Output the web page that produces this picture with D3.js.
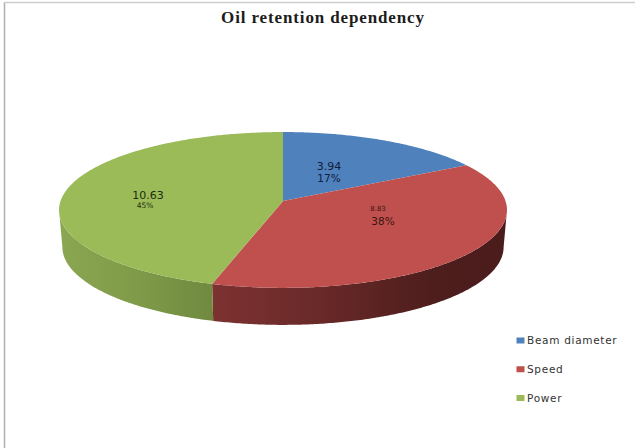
<!DOCTYPE html>
<html><head><meta charset="utf-8">
<script src="https://cdn.jsdelivr.net/npm/d3@7"></script>
<style>html,body{margin:0;padding:0;background:#fff}svg{display:block}</style>
</head><body><svg id="c" width="635" height="448"></svg>
<script>
const categories = ["Beam diameter", "Speed", "Power"];
const values = [3.94, 8.83, 10.63];
const percentLabels = ["17%", "38%", "45%"];
const topColors = ["#4f81bd", "#c0504d", "#9bbb59"];
const title = "Oil retention dependency";

const W = 635, H = 448;
const svg = d3.select("#c").attr("viewBox", [0, 0, W, H]);
svg.append("rect").attr("width", W).attr("height", H).attr("fill", "#fff");
svg.append("line").attr("x1", 4.5).attr("x2", 4.5).attr("y1", 2).attr("y2", 448).attr("stroke", "#b0b0b0").attr("stroke-width", 1.5);
svg.append("line").attr("x1", 4).attr("x2", 635).attr("y1", 2.5).attr("y2", 2.5).attr("stroke", "#cdcdcd").attr("stroke-width", 1.5);

svg.append("text").attr("x", 323).attr("y", 23).attr("text-anchor", "middle")
  .attr("font-family", "Liberation Serif").attr("font-weight", "bold")
  .attr("font-size", 17).attr("letter-spacing", 0.87).attr("fill", "#1c1c1c").text(title);

// perspective projection of the pie disc
const apex = [283, 201], A = 222.5, B = 76.9, k = 0.115, depth = 37, shrink = 0.985;
const project = (theta, s = 1, dy = 0) => {
  const u = Math.sin(theta), v = Math.cos(theta), w = 1 + k * v;
  return [apex[0] + s * A * u / w, apex[1] - B * v / w + dy];
};
const pie = d3.pie().sort(null)(values);
const tangent = Math.acos(-k);
const fine = (a, b) => { const n = Math.max(2, Math.ceil((b - a) / 0.01)); return d3.range(n + 1).map(i => a + (b - a) * i / n); };
const line = d3.line();

const defs = svg.append("defs");
const gradient = (id, x1, x2, stops) => {
  const g = defs.append("linearGradient").attr("id", id).attr("gradientUnits", "userSpaceOnUse")
    .attr("x1", x1).attr("x2", x2).attr("y1", 0).attr("y2", 0);
  stops.forEach(([o, c]) => g.append("stop").attr("offset", o).attr("stop-color", c));
};
gradient("sideRed", 213, 503, [[0, "#7c3231"], [0.35, "#6a2a29"], [0.75, "#4e1e1d"], [1, "#4a1c1b"]]);
gradient("sideGreen", 62, 213, [[0, "#8ba651"], [0.5, "#7f9b49"], [1, "#70893f"]]);

// side walls of the disc
[[1, "sideRed"], [2, "sideGreen"]].forEach(([i, id]) => {
  const a = Math.max(pie[i].startAngle, tangent), b = Math.min(pie[i].endAngle, 2 * Math.PI - tangent);
  const ts = fine(a, b);
  const pts = ts.map(t => project(t)).concat(ts.slice().reverse().map(t => project(t, shrink, depth)));
  svg.append("path").attr("d", line(pts) + "Z").attr("fill", `url(#${id})`);
});

// top faces
pie.forEach((d, i) => {
  const pts = [apex].concat(fine(d.startAngle, d.endAngle).map(t => project(t)));
  svg.append("path").attr("d", line(pts) + "Z").attr("fill", topColors[i]);
});

// data labels
const lab = (x, y, t, size, fill) => svg.append("text").attr("x", x).attr("y", y).attr("text-anchor", "middle")
  .attr("font-family", "DejaVu Sans").attr("font-size", size).attr("fill", fill).text(t);
lab(329, 170, values[0].toFixed(2), 11, "#10203c");
lab(329, 182, percentLabels[0], 10.5, "#10203c");
lab(378, 211, values[1].toFixed(2), 7, "#3c1414");
lab(383, 225, percentLabels[1], 10.5, "#3c1414");
lab(148, 198.5, values[2].toFixed(2), 11, "#1c2c0c");
lab(145, 208, percentLabels[2], 7.5, "#1c2c0c");

// legend
const legendY = d3.scalePoint().domain(categories).range([340.5, 398]);
categories.forEach((c, i) => {
  const y = legendY(c);
  svg.append("rect").attr("x", 516.5).attr("y", y - 3).attr("width", 8).attr("height", 6).attr("fill", topColors[i]);
  svg.append("text").attr("x", 527).attr("y", y + 3.5).attr("font-family", "DejaVu Sans")
    .attr("font-size", 10.5).attr("letter-spacing", 0.7).attr("fill", "#333").text(c);
});
</script></body></html>
